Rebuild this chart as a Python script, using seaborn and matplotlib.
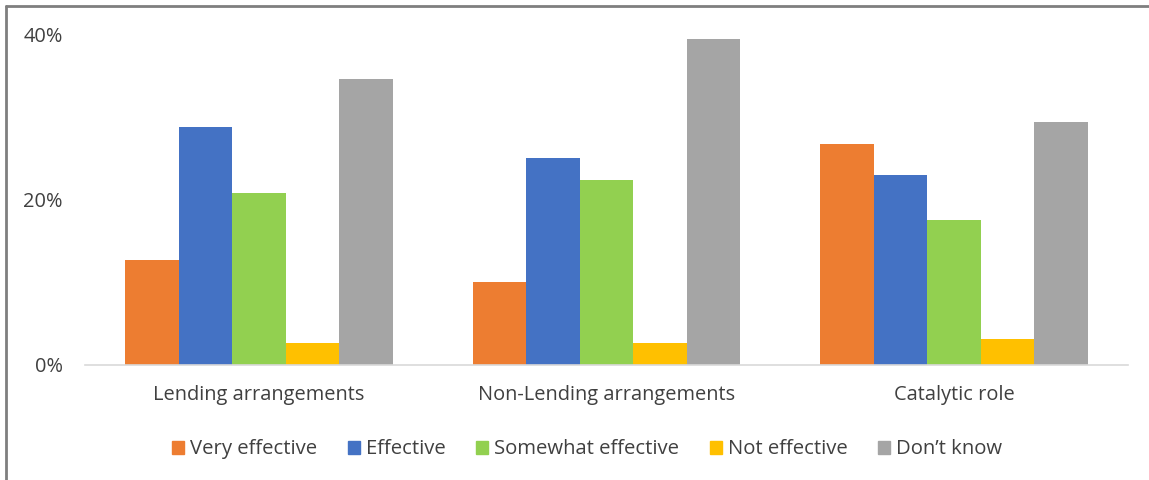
import matplotlib
matplotlib.use("Agg")
import matplotlib.pyplot as plt
from matplotlib.lines import Line2D
from matplotlib.ticker import FuncFormatter
import pandas as pd
import seaborn as sns

categories = ["Lending arrangements", "Non-Lending arrangements", "Catalytic role"]
responses = ["Very effective", "Effective", "Somewhat effective", "Not effective", "Don\u2019t know"]
very_effective = [12.7, 10.0, 26.7]
effective = [28.8, 25.0, 23.0]
somewhat_effective = [20.8, 22.4, 17.5]
not_effective = [2.6, 2.6, 3.1]
dont_know = [34.6, 39.5, 29.4]
colors = ["#ED7D31", "#4472C4", "#92D050", "#FFC000", "#A5A5A5"]

series = [very_effective, effective, somewhat_effective, not_effective, dont_know]
rows = []
for resp, vals in zip(responses, series):
    for cat, v in zip(categories, vals):
        rows.append({"category": cat, "response": resp, "share": v})
df = pd.DataFrame(rows)

sns.set_theme(style="white")
plt.rcParams["font.family"] = ["Open Sans", "DejaVu Sans"]

fig = plt.figure(figsize=(11.49, 4.8), dpi=100)
ax = fig.add_axes([0.074, 0.2406, 0.9077, 0.6875])

sns.barplot(data=df, x="category", y="share", hue="response",
            order=categories, hue_order=responses, palette=colors,
            width=0.77, saturation=1, ax=ax, edgecolor="none", linewidth=0)

ax.set_xlim(-0.5, 2.5)
ax.set_ylim(0, 40)
ax.set_yticks([0, 20, 40])
ax.yaxis.set_major_formatter(FuncFormatter(lambda v, _: f"{v:.0f}%"))
ax.set_xlabel("")
ax.set_ylabel("")
for side in ["top", "right", "left"]:
    ax.spines[side].set_visible(False)
ax.spines["bottom"].set_color("#D9D9D9")
ax.spines["bottom"].set_linewidth(1.2)
ax.tick_params(axis="both", length=0, labelsize=14.4, colors="#404040")
ax.tick_params(axis="y", pad=16)
ax.tick_params(axis="x", pad=15)

ax.legend_.remove()
handles = [plt.Rectangle((0, 0), 1, 1, color=c) for c in colors]
fig.legend(handles, responses, loc="center", ncol=5,
           bbox_to_anchor=(0.511, 0.064), frameon=False, fontsize=14.6,
           handlelength=0.6, handleheight=0.6, handletextpad=0.3,
           columnspacing=1.5, labelcolor="#404040")

# frame lines at the left and top of the figure
fig.add_artist(Line2D([0.0050, 0.0050], [0.0, 0.987], transform=fig.transFigure,
                      color="#7F7F7F", linewidth=2))
fig.add_artist(Line2D([0.0050, 1.0], [0.987, 0.987], transform=fig.transFigure,
                      color="#7F7F7F", linewidth=2))

fig.savefig("out.png", dpi=100)
